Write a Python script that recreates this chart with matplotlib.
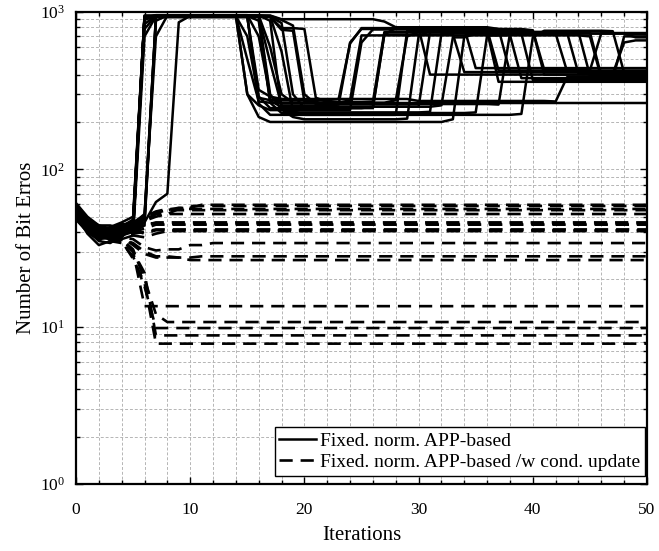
import matplotlib
matplotlib.use("Agg")
import matplotlib.pyplot as plt
from matplotlib.ticker import LogLocator, MultipleLocator, NullFormatter
from matplotlib.lines import Line2D

plt.rcParams['font.family'] = ['Liberation Serif', 'DejaVu Serif']
plt.rcParams['mathtext.fontset'] = 'custom'
plt.rcParams['mathtext.rm'] = 'Liberation Serif'
plt.rcParams['mathtext.it'] = 'Liberation Serif:italic'

iterations = list(range(0, 51))

# Each curve: (iteration, number of bit errors);
# the value is held until the next listed iteration (run-length form).
solid_curves = [
    [(0,57),(1,45),(2,41),(3,42),(4,44),(5,47),(6,780),(7,950),(15,300),(16,255),(17,238),(25,640),(26,775),(37,425)],
    [(0,55),(1,43),(2,38),(3,39),(4,41),(5,45),(6,930),(16,290),(17,245),(27,720),(28,790),(35,440)],
    [(0,52),(1,40),(2,36),(3,37),(4,40),(5,42),(6,905),(7,945),(16,262),(17,222),(29,760),(41,400)],
    [(0,58),(1,46),(2,42),(3,40),(4,41),(5,43),(6,48),(7,940),(17,272),(18,250),(31,745),(46,392)],
    [(0,50),(1,41),(2,35),(3,34),(4,38),(5,40),(6,44),(7,935),(14,940),(15,300),(16,215),(17,200),(33,208),(34,700),(35,735),(39,730),(40,370)],
    [(0,54),(1,44),(2,40),(3,38),(4,39),(5,41),(6,910),(7,950),(17,600),(18,300),(19,265),(24,275),(25,710),(38,715),(39,380),(47,375),(48,700)],
    [(0,53),(1,42),(2,37),(3,36),(4,37),(5,44),(6,930),(18,790),(20,780),(21,285),(22,268),(26,270),(27,745),(43,740),(44,405)],
    [(0,56),(1,46),(2,43),(3,42),(4,42),(5,45),(6,52),(7,700),(8,950),(18,900),(27,870),(28,800),(37,780),(38,415)],
    [(0,61),(1,50),(2,44),(3,42),(4,41),(5,40),(6,46),(7,62),(8,70),(9,860),(10,945),(16,935),(17,480),(18,255),(23,258),(24,640),(25,780),(40,765),(41,430),(45,425),(46,735)],
    [(0,51),(1,39),(2,33),(3,35),(4,38),(5,41),(6,840),(7,945),(15,500),(16,270),(17,265),(28,275),(29,700),(30,745),(44,745),(45,395)],
    [(0,55),(1,44),(2,39),(3,40),(4,42),(5,46),(6,935),(17,300),(18,240),(19,230),(31,232),(32,730),(49,725)],
    [(0,53),(1,41),(2,36),(3,38),(4,40),(5,42),(6,920),(7,955),(16,700),(17,290),(18,264)],
    [(0,57),(1,47),(2,43),(3,41),(4,40),(5,43),(6,50),(7,930),(16,320),(17,290),(18,280),(30,272),(42,270),(43,385)],
    [(0,50),(1,40),(2,37),(3,39),(4,43),(5,48),(6,950),(17,880),(18,240),(19,215),(20,208),(29,210),(30,700),(31,760),(36,755),(37,360)],
    [(0,56),(1,45),(2,40),(3,41),(4,43),(5,46),(6,925),(7,940),(18,850),(19,300),(20,245),(26,250),(27,720),(33,725),(34,415),(47,405),(48,640),(49,660)],
    [(0,52),(1,42),(2,38),(3,37),(4,39),(5,41),(6,890),(7,945),(16,880),(17,265),(18,228),(35,230),(36,710),(45,700),(46,380)],
    [(0,54),(1,43),(2,38),(3,36),(4,36),(5,38),(6,700),(7,940),(15,700),(16,285),(17,275),(23,280),(24,630),(25,790),(30,790),(31,400)],
    [(0,55),(1,45),(2,41),(3,43),(4,46),(5,50),(6,945),(18,890),(19,820),(20,300),(21,260),(37,258),(38,730),(42,730),(43,420)],
    [(0,53),(1,44),(2,40),(3,42),(4,45),(5,44),(6,920),(7,950),(17,930),(18,770),(19,760),(20,270),(22,250),(32,255),(33,690),(35,730),(49,690)],
    [(0,59),(1,48),(2,44),(3,44),(4,42),(5,42),(6,46),(7,880),(8,950),(17,940),(18,560),(19,235),(20,222),(39,225),(40,690),(41,760),(47,755),(48,410)],
]

dashed_curves = [
    [(0,55),(1,45),(2,41),(3,40),(4,41),(5,44),(6,47),(7,52),(8,55),(9,57),(11,59.5)],
    [(0,50),(1,42),(2,39),(3,40),(4,42),(5,45),(6,50),(7,54),(8,56),(10,58.5)],
    [(0,53),(1,44),(2,40),(3,39),(4,40),(5,42),(6,48),(7,52),(9,56)],
    [(0,57),(1,47),(2,43),(3,43),(4,44),(5,46),(6,51),(7,53),(8,55)],
    [(0,49),(1,41),(2,37),(3,38),(4,40),(5,42),(6,47),(7,50),(8,52)],
    [(0,52),(1,43),(2,39),(3,38),(4,39),(5,41),(6,44),(7,46)],
    [(0,54),(1,44),(2,40),(3,41),(4,43),(5,44),(6,46),(7,45)],
    [(0,48),(1,40),(2,37),(3,36),(4,38),(5,40),(6,42),(7,44.5)],
    [(0,51),(1,42),(2,38),(3,37),(4,38),(5,39),(6,40),(7,41.5)],
    [(0,56),(1,46),(2,42),(3,40),(4,40),(5,41),(6,39),(7,41)],
    [(0,50),(1,41),(2,38),(3,39),(4,40),(5,38),(6,37),(7,39),(8,40.5)],
    [(0,53),(1,43),(2,38),(3,37),(4,37),(5,36),(6,32),(7,30.5),(8,31),(10,33),(12,34)],
    [(0,49),(1,40),(2,36),(3,35),(4,36),(5,34),(6,30),(7,28),(9,27.5),(11,28)],
    [(0,52),(1,42),(2,38),(3,38),(4,37),(5,33),(6,29),(7,27.5),(10,26.5)],
    [(0,51),(1,41),(2,37),(3,36),(4,35),(5,30),(6,13.5)],
    [(0,55),(1,44),(2,40),(3,38),(4,36),(5,31),(6,20),(7,12),(8,10.7)],
    [(0,50),(1,40),(2,36),(3,35),(4,34),(5,28),(6,18),(7,9.8)],
    [(0,53),(1,42),(2,38),(3,37),(4,36),(5,30),(6,22),(7,8.8)],
    [(0,54),(1,43),(2,39),(3,37),(4,35),(5,27),(6,19),(7,7.8)],
]

legend_labels = ["Fixed. norm. APP-based", "Fixed. norm. APP-based /w cond. update"]
x_ticks = [0, 10, 20, 30, 40, 50]
y_ticks = [1, 10, 100, 1000]
y_tick_labels = [r"$10^{0}$", r"$10^{1}$", r"$10^{2}$", r"$10^{3}$"]


def expand(keys):
    vals = []
    k = 0
    cur = keys[0][1]
    for it in iterations:
        while k < len(keys) and keys[k][0] <= it:
            cur = keys[k][1]
            k += 1
        vals.append(cur)
    return vals


fig = plt.figure(figsize=(6.59, 5.51), dpi=100)
ax = fig.add_axes([76/659, 1-484/551, 571/659, 472/551])

for c in dashed_curves:
    ax.plot(iterations, expand(c), color='black', lw=1.9, dashes=(5, 3), zorder=3)
for c in solid_curves:
    ax.plot(iterations, expand(c), color='black', lw=1.8, zorder=4)

ax.set_yscale('log')
ax.set_xlim(0, 50)
ax.set_ylim(1, 1000)
ax.set_xticks(x_ticks)
ax.xaxis.set_minor_locator(MultipleLocator(2))
ax.set_yticks(y_ticks)
ax.set_yticklabels(y_tick_labels)
ax.yaxis.set_minor_locator(LogLocator(base=10, subs=range(2, 10)))
ax.yaxis.set_minor_formatter(NullFormatter())

ax.grid(True, which='both', color='#b5b5b5', linestyle=(0, (3, 2)), lw=0.7, zorder=0)
ax.set_axisbelow(True)
ax.tick_params(which='both', direction='in', top=True, right=True, labelsize=12.5, width=1)
ax.tick_params(which='major', length=5)
ax.tick_params(which='minor', length=3)
ax.tick_params(axis='y', which='major', pad=8)
ax.tick_params(axis='x', which='major', pad=13)
for s in ax.spines.values():
    s.set_linewidth(1.6)

ax.set_xlabel("Iterations", fontsize=15, labelpad=6)
ax.set_ylabel("Number of Bit Erros", fontsize=15, labelpad=3)

handles = [Line2D([], [], color='black', lw=1.8),
           Line2D([], [], color='black', lw=1.9, dashes=(5, 3))]
leg = ax.legend(handles, legend_labels, loc='lower right', bbox_to_anchor=(0.997, 0.017),
                fontsize=14, frameon=True, fancybox=False, framealpha=1,
                edgecolor='black', handlelength=1.9, handletextpad=0.2,
                borderpad=0.25, labelspacing=0.2, borderaxespad=0)
leg.get_frame().set_linewidth(1.0)
leg.set_zorder(10)

fig.savefig("out.png", dpi=100)
